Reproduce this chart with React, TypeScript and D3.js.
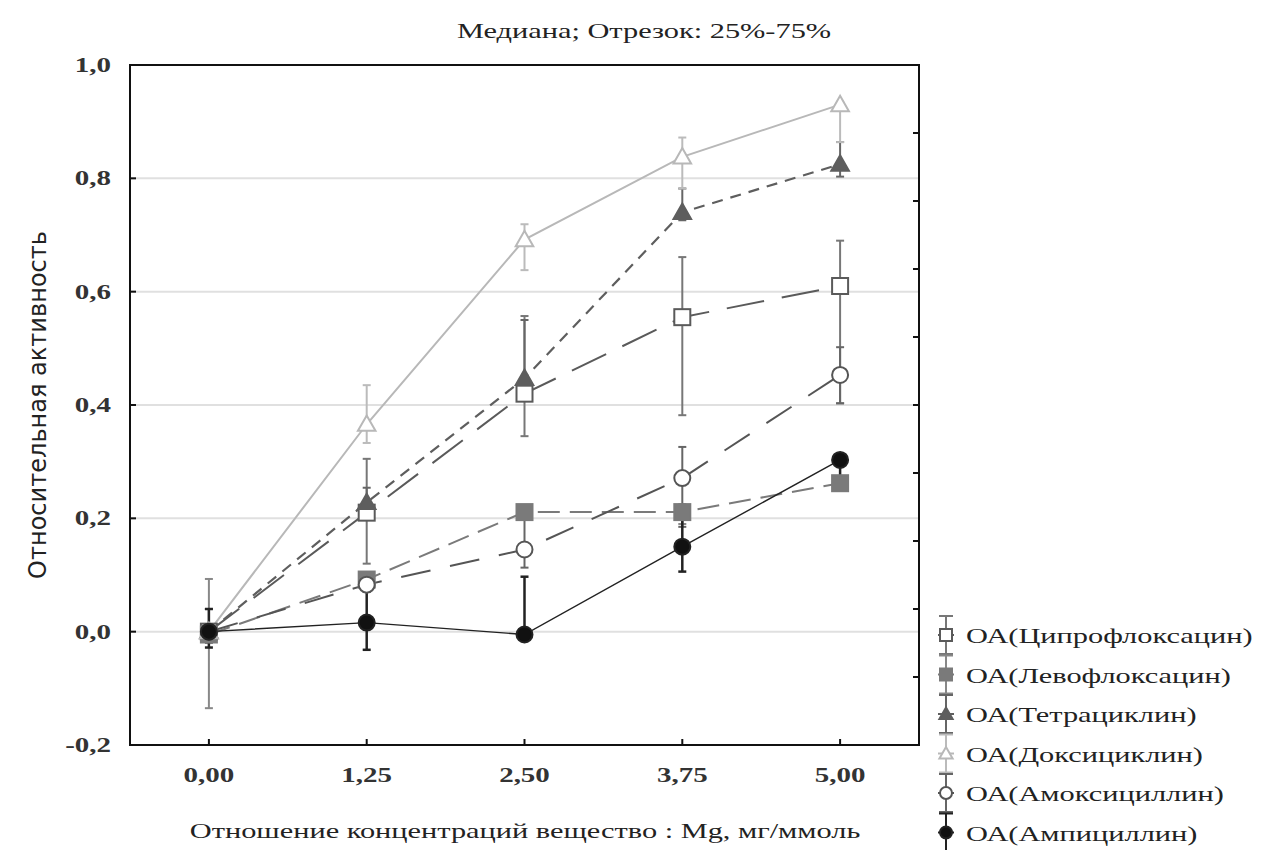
import React from "react";
import * as d3 from "d3";

const categories = ["0,00", "1,25", "2,50", "3,75", "5,00"];
const yTicks = [-0.2, 0, 0.2, 0.4, 0.6, 0.8, 1.0];
const gridValues = [0, 0.2, 0.4, 0.6, 0.8];

// median, lower (25%), upper (75%)
const ciproMed = [0, 0.21, 0.42, 0.555, 0.61];
const ciproLo = [-0.02, 0.12, 0.345, 0.382, 0.403];
const ciproHi = [0.04, 0.305, 0.557, 0.661, 0.69];

const levoMed = [-0.005, 0.092, 0.211, 0.211, 0.262];
const levoLo = [-0.135, 0.08, 0.2, 0.19, 0.25];
const levoHi = [0.093, 0.1, 0.22, 0.225, 0.27];

const tetraMed = [0, 0.228, 0.447, 0.74, 0.825];
const tetraLo = [-0.01, 0.2, 0.42, 0.726, 0.803];
const tetraHi = [0.01, 0.254, 0.55, 0.782, 0.864];

const doxyMed = [0, 0.366, 0.692, 0.838, 0.93];
const doxyLo = [-0.01, 0.333, 0.638, 0.782, 0.864];
const doxyHi = [0.01, 0.435, 0.719, 0.872, 0.935];

const amoxMed = [0, 0.083, 0.145, 0.271, 0.453];
const amoxLo = [-0.01, 0.07, 0.113, 0.185, 0.403];
const amoxHi = [0.01, 0.1, 0.2, 0.326, 0.502];

const ampMed = [0, 0.016, -0.005, 0.15, 0.303];
const ampLo = [-0.028, -0.032, -0.005, 0.106, 0.268];
const ampHi = [0.04, 0.09, 0.097, 0.2, 0.31];

const series = [
  { name: "ОА(Ципрофлоксацин)", med: ciproMed, lo: ciproLo, hi: ciproHi, color: "#5a5a5a", bar: "#777", marker: "square", fill: "#fff", dash: "38,18", lw: 2 },
  { name: "ОА(Левофлоксацин)", med: levoMed, lo: levoLo, hi: levoHi, color: "#7a7a7a", bar: "#888", marker: "square", fill: "#7a7a7a", dash: "22,10", lw: 2 },
  { name: "ОА(Тетрациклин)", med: tetraMed, lo: tetraLo, hi: tetraHi, color: "#5e5e5e", bar: "#666", marker: "triangle", fill: "#5e5e5e", dash: "11,8", lw: 2.2 },
  { name: "ОА(Доксициклин)", med: doxyMed, lo: doxyLo, hi: doxyHi, color: "#b8b8b8", bar: "#bbb", marker: "triangle", fill: "#fff", dash: "", lw: 2 },
  { name: "ОА(Амоксициллин)", med: amoxMed, lo: amoxLo, hi: amoxHi, color: "#555", bar: "#666", marker: "circle", fill: "#fff", dash: "30,20", lw: 2 },
  { name: "ОА(Ампициллин)", med: ampMed, lo: ampLo, hi: ampHi, color: "#222", bar: "#222", marker: "circle", fill: "#111", dash: "", lw: 1.4 },
];

const serif = "'Liberation Serif', 'DejaVu Serif', serif";
const stretch = 1.38; // the source picture is stretched sideways

function Marker({ type, x, y, color, fill, size = 8 }: any) {
  if (type === "square")
    return <rect x={x - size} y={y - size} width={size * 2} height={size * 2} fill={fill} stroke={color} strokeWidth={2} />;
  if (type === "triangle") {
    const s = size * 1.1;
    return <path d={`M${x},${y - s}L${x + s},${y + s * 0.75}L${x - s},${y + s * 0.75}Z`} fill={fill} stroke={color} strokeWidth={2} />;
  }
  return <circle cx={x} cy={y} r={size} fill={fill} stroke={color} strokeWidth={2} />;
}

function SText({ x, y, anchor = "start", size = 22, weight = "normal", fill = "#222", children }: any) {
  return (
    <text
      transform={`translate(${x},${y}) scale(${stretch},1)`}
      textAnchor={anchor}
      fontFamily={serif}
      fontSize={size}
      fontWeight={weight}
      fill={fill}
    >
      {children}
    </text>
  );
}

export default function App() {
  const left = 130, right = 919, top = 65, bottom = 745;
  const x = d3.scalePoint<string>().domain(categories).range([left, right]).padding(0.5);
  const y = d3.scaleLinear().domain([-0.2, 1.0]).range([bottom, top]);
  const rightTicks = d3.range(1, 10).map((i) => top + ((bottom - top) * i) / 10);

  return (
    <svg width={1272} height={850} style={{ position: "absolute", left: 0, top: 0, background: "#fff" }}>
      <rect width={1272} height={850} fill="#fff" />
      <SText x={644} y={38} anchor="middle" size={22}>
        Медиана; Отрезок: 25%-75%
      </SText>

      {gridValues.map((v) => (
        <line key={v} x1={left} x2={right} y1={y(v)} y2={y(v)} stroke="#e0e0e0" strokeWidth={2} />
      ))}

      {series.map((s) => {
        const line = d3
          .line<number>()
          .x((_, i) => x(categories[i]) as number)
          .y((d) => y(d));
        return (
          <path key={s.name} d={line(s.med) || ""} fill="none" stroke={s.color} strokeWidth={s.lw} strokeDasharray={s.dash || undefined} />
        );
      })}

      {series.map((s) => (
        <g key={s.name + "err"}>
          {categories.map((c, i) => {
            const cx = x(c) as number;
            return (
              <g key={c} stroke={s.bar} strokeWidth={s.name.includes("Ампи") ? 2.5 : 2}>
                <line x1={cx} x2={cx} y1={y(s.lo[i])} y2={y(s.hi[i])} />
                <line x1={cx - 4} x2={cx + 4} y1={y(s.lo[i])} y2={y(s.lo[i])} />
                <line x1={cx - 4} x2={cx + 4} y1={y(s.hi[i])} y2={y(s.hi[i])} />
              </g>
            );
          })}
        </g>
      ))}

      {series.map((s) => (
        <g key={s.name + "m"}>
          {categories.map((c, i) => (
            <Marker key={c} type={s.marker} x={x(c)} y={y(s.med[i])} color={s.color} fill={s.fill} />
          ))}
        </g>
      ))}

      <rect x={left} y={top} width={right - left} height={bottom - top} fill="none" stroke="#111" strokeWidth={2} />
      {yTicks.map((v) => (
        <g key={v}>
          <line x1={left} x2={left + 6} y1={y(v)} y2={y(v)} stroke="#111" strokeWidth={2} />
          <SText x={left - 19} y={y(v) + 7} anchor="end" size={21} weight="bold" fill="#333">
            {v.toFixed(1).replace(".", ",")}
          </SText>
        </g>
      ))}
      {rightTicks.map((t) => (
        <line key={t} x1={right - 6} x2={right} y1={t} y2={t} stroke="#111" strokeWidth={2} />
      ))}
      {categories.map((c) => (
        <g key={c}>
          <line x1={x(c)} x2={x(c)} y1={bottom - 6} y2={bottom} stroke="#111" strokeWidth={2} />
          <SText x={x(c)} y={bottom + 37} anchor="middle" size={21} weight="bold" fill="#333">
            {c}
          </SText>
        </g>
      ))}

      <SText x={525} y={838} anchor="middle" size={22}>
        Отношение концентраций вещество : Mg, мг/ммоль
      </SText>
      <text
        transform={`translate(46,405) rotate(-90)`}
        textAnchor="middle"
        fontFamily="'Liberation Sans Narrow', 'DejaVu Sans Condensed', 'Liberation Sans', sans-serif"
        fontSize={24}
        textLength={348}
        lengthAdjust="spacingAndGlyphs"
        fill="#222"
      >
        Относительная активность
      </text>

      {series.map((s, i) => {
        const cy = 635 + i * 39.5;
        const sx = 946;
        return (
          <g key={s.name + "leg"}>
            <g stroke={s.bar} strokeWidth={2}>
              <line x1={sx} x2={sx} y1={cy - 19} y2={cy + 19} />
              <line x1={sx - 7} x2={sx + 7} y1={cy - 19} y2={cy - 19} />
              <line x1={sx - 7} x2={sx + 7} y1={cy + 19} y2={cy + 19} />
              <line x1={sx - 8} x2={sx + 8} y1={cy} y2={cy} stroke={s.color} />
            </g>
            <Marker type={s.marker} x={sx} y={cy} color={s.color} fill={s.fill} size={6} />
            <SText x={966} y={cy + 8} size={22}>
              {s.name}
            </SText>
          </g>
        );
      })}
    </svg>
  );
}
